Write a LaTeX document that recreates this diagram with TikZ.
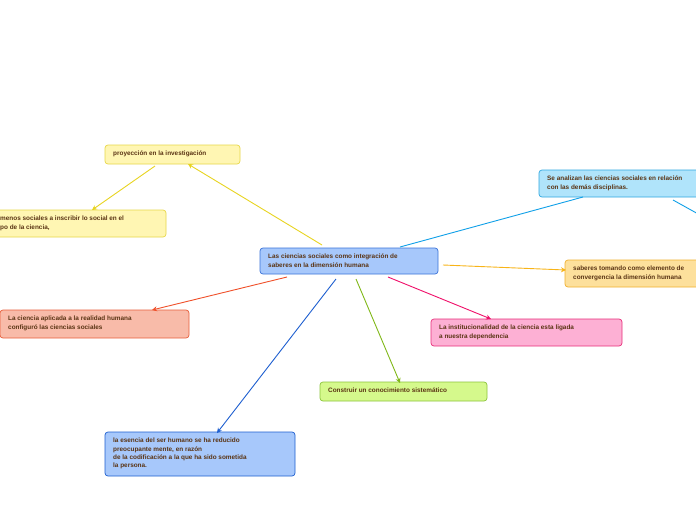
\documentclass[tikz,border=0pt]{standalone}
\usepackage{fontspec}
\setmainfont{Liberation Sans}
\usetikzlibrary{arrows.meta}
\definecolor{txt}{HTML}{5A3414}
\definecolor{fblue}{HTML}{A7C8FB}\definecolor{dblue}{HTML}{3B73D9}
\definecolor{fyel}{HTML}{FFF6B3}\definecolor{dyel}{HTML}{E8D84A}
\definecolor{fred}{HTML}{F8BBA9}\definecolor{dred}{HTML}{E8603C}
\definecolor{fpink}{HTML}{FDB0D4}\definecolor{dpink}{HTML}{E8307C}
\definecolor{fgrn}{HTML}{D5F98C}\definecolor{dgrn}{HTML}{8CC43C}
\definecolor{fcyan}{HTML}{B0E4FB}\definecolor{dcyan}{HTML}{30A8E0}
\definecolor{forg}{HTML}{FDE09C}\definecolor{dorg}{HTML}{F0B030}
\definecolor{lyel}{HTML}{E8D420}\definecolor{lred}{HTML}{F0502A}
\definecolor{lblue}{HTML}{1E5FD0}\definecolor{lgrn}{HTML}{80B818}
\definecolor{lpink}{HTML}{F0106A}\definecolor{lorg}{HTML}{F8B418}
\definecolor{lcyan}{HTML}{10A0E8}
\tikzset{x=1pt,y=-1pt,
 box/.style={draw,rounded corners=3pt,line width=0.7pt,anchor=north west,inner sep=0pt},
 lbl/.style={anchor=north west,inner sep=0pt,font=\bfseries\fontsize{6.4}{8.2}\selectfont,text=txt,align=left},
 arr/.style={line width=0.9pt,-{Stealth[length=5pt,width=5pt]}}}
\newcommand\bx[8]{\path[box,fill=#5,draw=#6] (#1,#2) rectangle (#3,#4);
 \node[lbl] (#7) at (#1+8,#2+6) {#8};
 \coordinate (#7nw) at (#1,#2); \coordinate (#7se) at (#3,#4);}
\begin{document}
\begin{tikzpicture}
\useasboundingbox (0,0) rectangle (696,520);
\clip (0,0) rectangle (696,520);
\fill[white] (0,0) rectangle (696,520);
\bx{260}{248}{438}{274}{fblue}{dblue}{c}{Las ciencias sociales como integración de\\saberes en la dimensión humana}
\bx{105}{145}{240}{164}{fyel}{dyel}{p}{proyección en la investigación}
\bx{-10}{210}{166}{237}{fyel}{dyel}{f}{}
\node[lbl] (ft) at (0,216) {menos sociales a inscribir lo social en el\\po de la ciencia,};
\bx{0}{310}{189}{338}{fred}{dred}{a}{La ciencia aplicada a la realidad humana\\configuró las ciencias sociales}
\bx{431}{319}{622}{346}{fpink}{dpink}{i}{La institucionalidad de la ciencia esta ligada\\a nuestra dependencia}
\bx{320}{382}{487}{401}{fgrn}{dgrn}{k}{Construir un conocimiento sistemático}
\bx{105}{432}{295}{476}{fblue}{lblue}{e}{la esencia del ser humano se ha reducido\\preocupante mente, en razón\\de la codificación a la que ha sido sometida\\la persona.}
\bx{539}{170}{720}{197}{fcyan}{dcyan}{s}{Se analizan las ciencias sociales en relación\\con las demás disciplinas.}
\bx{565}{260}{720}{287}{forg}{dorg}{t}{saberes tomando como elemento de\\convergencia la dimensión humana}
\coordinate (c1) at (322,245); \coordinate (p1) at (188,164);
\draw[arr,lyel] (c1) -- (p1);
\coordinate (p2) at (155,166); \coordinate (f1) at (92,210);
\draw[arr,lyel] (p2) -- (f1);
\coordinate (c2) at (287,277); \coordinate (a1) at (152,310);
\draw[arr,lred] (c2) -- (a1);
\coordinate (c3) at (336,279); \coordinate (e1) at (217,433);
\draw[arr,lblue] (c3) -- (e1);
\coordinate (c4) at (356,279); \coordinate (k1) at (400,383);
\draw[arr,lgrn] (c4) -- (k1);
\coordinate (c5) at (388,277); \coordinate (i1) at (491,319);
\draw[arr,lpink] (c5) -- (i1);
\coordinate (c6) at (443,265); \coordinate (t1) at (566,270);
\draw[arr,lorg] (c6) -- (t1);
\coordinate (c7) at (400,247); \coordinate (s1) at (583,197);
\draw[line width=0.9pt,lcyan] (c7) -- (s1);
\coordinate (s2) at (673,200); \coordinate (s3) at (700,215);
\draw[line width=0.9pt,lcyan] (s2) -- (s3);
\end{tikzpicture}
\end{document}
